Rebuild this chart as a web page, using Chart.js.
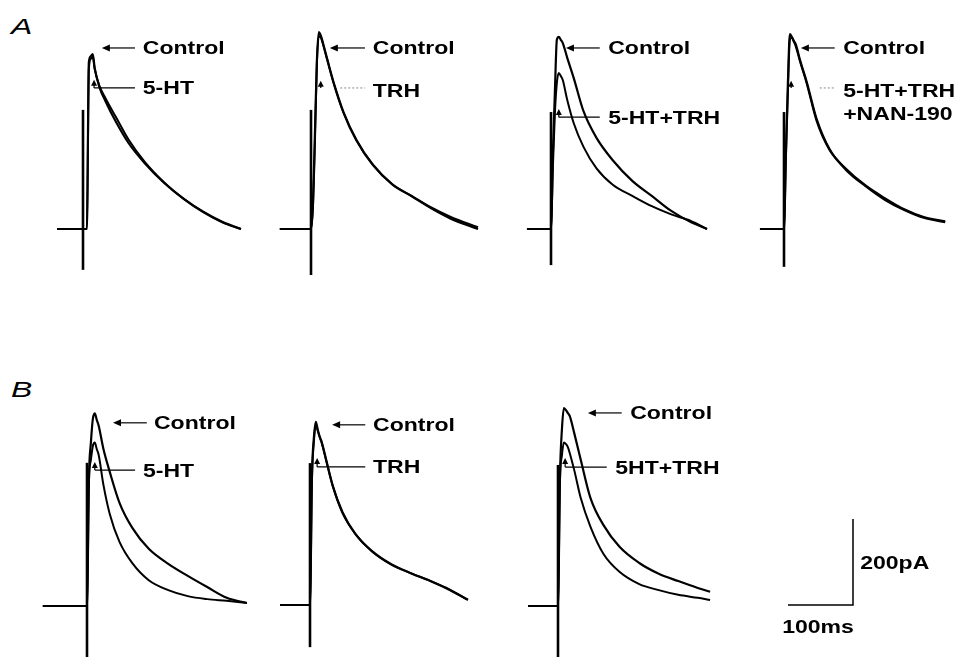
<!DOCTYPE html>
<html>
<head>
<meta charset="utf-8">
<title>EPSC traces</title>
<script src="https://cdn.jsdelivr.net/npm/chart.js@4.4.1/dist/chart.umd.min.js"></script>
<style>
  html, body { margin: 0; padding: 0; background: #fff; }
  body { width: 956px; height: 657px; position: relative; overflow: hidden; }
  .panel { position: absolute; }
  .row-label {
    position: absolute;
    font-family: "Liberation Sans", Arial, sans-serif;
    font-style: italic;
    font-size: 22px;
    line-height: 1;
    transform: scaleX(1.45);
    transform-origin: left top;
  }
</style>
</head>
<body>
<div class="row-label" style="left:11px; top:16px;">A</div>
<div class="row-label" style="left:11px; top:379px;">B</div>

<script>
// ---- data (ms after the stimulus, current in pA, drawn upward) ----
const timeMs = [0, 3, 6, 9, 12, 15, 18, 25, 35, 50, 70, 95, 125, 155, 185, 215];
const baselineStartMs = [-40, -48, -37, -37, -68, -46, -46];
const traceEndMs = [243, 257, 240, 248, 246, 243, 234];

// last value of each list is the current at traceEndMs
const a1Control = [0, 0, 0, 388, 402, 407, 374, 331, 296, 251, 200, 153, 107, 70, 40, 16, 0];
const a1Drug    = [0, 0, 0, 372, 396, 400, 372, 334, 303, 262, 208, 156, 108, 70, 39, 15, 0];
const a2Control = [0, 60, 220, 390, 458, 450, 435, 395, 340, 272, 207, 150, 104, 76, 48, 24, 0];
const a2Drug    = [0, 50, 200, 380, 448, 446, 432, 393, 338, 270, 205, 149, 104, 77, 50, 28, 4];
const a3Control = [0, 180, 320, 440, 447, 440, 433, 398, 351, 274, 212, 160, 112, 77, 42, 16, 0];
const a3Drug    = [0, 150, 270, 340, 363, 356, 347, 300, 246, 191, 141, 103, 77, 53, 34, 19, 0];
const a4Control = [0, 180, 340, 453, 447, 438, 430, 391, 342, 257, 186, 138, 100, 68, 44, 26, 16];
const a4Drug    = [0, 170, 320, 440, 445, 436, 425, 388, 338, 252, 184, 141, 102, 72, 46, 28, 18];
const b1Control = [0, 300, 380, 435, 448, 433, 419, 367, 312, 240, 181, 133, 98, 70, 44, 19, 7];
const b1Drug    = [0, 290, 340, 372, 380, 365, 351, 284, 214, 149, 99, 60, 37, 23, 16, 12, 7];
const b2Control = [0, 300, 390, 426, 407, 391, 379, 337, 277, 216, 165, 126, 95, 74, 56, 35, 12];
const b2Drug    = [0, 290, 380, 420, 405, 390, 377, 335, 277, 214, 165, 125, 94, 74, 56, 36, 12];
const b3Control = [0, 300, 410, 460, 456, 449, 442, 402, 340, 251, 188, 137, 100, 75, 58, 42, 33];
const b3Drug    = [0, 290, 350, 380, 377, 370, 356, 316, 251, 184, 121, 79, 51, 37, 26, 19, 14];

const controlTraces = [a1Control, a2Control, a3Control, a4Control, b1Control, b2Control, b3Control];
const drugTraces = [a1Drug, a2Drug, a3Drug, a4Drug, b1Drug, b2Drug, b3Drug];

// stimulus artifact extent (pA)
const artifactTopPa = [277, 277, 272, 272, 333, 330, 328];
const artifactBottomPa = [-95, -107, -84, -88, -125, -98, -125];

const drugNames = [['5-HT'], ['TRH'], ['5-HT+TRH'], ['5-HT+TRH', '+NAN-190'], ['5-HT'], ['TRH'], ['5HT+TRH']];

const scaleBarMs = 100;
const scaleBarPa = 200;

// ---- layout ----
const X_MIN = -100, X_MAX = 300;   // ms in every panel
const Y_MIN = -200, Y_MAX = 500;   // pA in every panel
const PX_PER_MS = 0.65, PX_PER_PA = 0.43;
// page pixel of (0 ms, 0 pA) for each panel
const panelOrigins = [[83, 229], [311, 229], [551, 229], [784, 229], [87, 606], [310, 605], [558, 606]];

// label anchors, in ms / pA of their panel
const controlLabels = [
  { tip: 29, tail: 80, y: 421, textX: 92 },
  { tip: 29, tail: 83, y: 421, textX: 95 },
  { tip: 23, tail: 75, y: 421, textX: 88 },
  { tip: 26, tail: 78, y: 421, textX: 91 },
  { tip: 40, tail: 92, y: 426, textX: 103 },
  { tip: 34, tail: 85, y: 419, textX: 97 },
  { tip: 46, tail: 98, y: 449, textX: 111 }
];
const drugLabels = [
  { tipX: 17, tipY: 347, lineY: 328, lineStart: 17, lineEnd: 80, textX: 92, textY: 328, dotted: false },
  { tipX: 15, tipY: 345, lineY: 328, lineStart: 45, lineEnd: 83, textX: 95, textY: 323, dotted: true },
  { tipX: 12, tipY: 279, lineY: 260, lineStart: 12, lineEnd: 75, textX: 88, textY: 260, dotted: false },
  { tipX: 11, tipY: 345, lineY: 328, lineStart: 55, lineEnd: 78, textX: 91, textY: 323, dotted: true },
  { tipX: 12, tipY: 335, lineY: 316, lineStart: 12, lineEnd: 74, textX: 86, textY: 316, dotted: false },
  { tipX: 11, tipY: 342, lineY: 321, lineStart: 11, lineEnd: 85, textX: 97, textY: 321, dotted: false },
  { tipX: 11, tipY: 344, lineY: 323, lineStart: 11, lineEnd: 75, textX: 88, textY: 323, dotted: false }
];

const LABEL_FONT = 'bold 18px "Liberation Sans", Arial, sans-serif';

function drawText(ctx, text, x, yCenter) {
  ctx.save();
  ctx.font = LABEL_FONT;
  ctx.textAlign = 'left';
  ctx.textBaseline = 'alphabetic';
  ctx.translate(x, yCenter + 6.5);
  ctx.scale(1.28, 1);
  ctx.fillText(text, 0, 0);
  ctx.restore();
}

function segment(ctx, x1, y1, x2, y2) {
  ctx.beginPath();
  ctx.moveTo(x1, y1);
  ctx.lineTo(x2, y2);
  ctx.stroke();
}

function arrowHead(ctx, x, y, dir) {
  // dir: 'left' or 'up'
  ctx.beginPath();
  if (dir === 'left') {
    ctx.moveTo(x, y);
    ctx.lineTo(x + 8, y - 3.5);
    ctx.lineTo(x + 8, y + 3.5);
  } else {
    ctx.moveTo(x, y);
    ctx.lineTo(x - 3, y + 6);
    ctx.lineTo(x + 3, y + 6);
  }
  ctx.closePath();
  ctx.fill();
}

function makeLabelPlugin(panel) {
  return {
    id: 'traceLabels',
    afterDatasetsDraw(chart) {
      const ctx = chart.ctx;
      const xs = chart.scales.x;
      const ys = chart.scales.y;
      const c = controlLabels[panel];
      const d = drugLabels[panel];

      ctx.save();
      ctx.strokeStyle = '#000';
      ctx.fillStyle = '#000';
      ctx.lineWidth = 1.2;

      const cy = ys.getPixelForValue(c.y);
      const tipX = xs.getPixelForValue(c.tip);
      segment(ctx, tipX + 6, cy, xs.getPixelForValue(c.tail), cy);
      arrowHead(ctx, tipX, cy, 'left');
      drawText(ctx, 'Control', xs.getPixelForValue(c.textX), cy);

      const dx = xs.getPixelForValue(d.tipX);
      const dTop = ys.getPixelForValue(d.tipY);
      const dLine = ys.getPixelForValue(d.lineY);
      arrowHead(ctx, dx, dTop, 'up');
      segment(ctx, dx, dTop + 5, dx, dLine);
      if (d.dotted) {
        ctx.strokeStyle = '#888';
        ctx.lineWidth = 1;
        ctx.setLineDash([2, 2]);
      }
      segment(ctx, xs.getPixelForValue(d.lineStart), dLine, xs.getPixelForValue(d.lineEnd), dLine);
      ctx.setLineDash([]);

      const lines = drugNames[panel];
      lines.forEach((txt, k) => {
        drawText(ctx, txt, xs.getPixelForValue(d.textX), ys.getPixelForValue(d.textY) + k * 23);
      });
      ctx.restore();
    }
  };
}

function tracePoints(panel, values) {
  const pts = [{ x: baselineStartMs[panel], y: 0 }];
  timeMs.forEach((t, k) => pts.push({ x: t, y: values[k] }));
  pts.push({ x: traceEndMs[panel], y: values[values.length - 1] });
  return pts;
}

function addCanvas(left, top, width, height) {
  const box = document.createElement('div');
  box.className = 'panel';
  box.style.left = left + 'px';
  box.style.top = top + 'px';
  box.style.width = width + 'px';
  box.style.height = height + 'px';
  const canvas = document.createElement('canvas');
  box.appendChild(canvas);
  document.body.appendChild(box);
  return canvas;
}

function hiddenScales(xMin, xMax, yMin, yMax) {
  return {
    x: { type: 'linear', min: xMin, max: xMax, display: false },
    y: { type: 'linear', min: yMin, max: yMax, display: false }
  };
}

function renderPanel(panel) {
  const [ox, oy] = panelOrigins[panel];
  const width = (X_MAX - X_MIN) * PX_PER_MS;
  const height = (Y_MAX - Y_MIN) * PX_PER_PA;
  const canvas = addCanvas(ox + X_MIN * PX_PER_MS, oy - Y_MAX * PX_PER_PA, width, height);

  new Chart(canvas, {
    type: 'line',
    data: {
      datasets: [
        {
          label: 'artifact',
          data: [{ x: 0, y: artifactBottomPa[panel] }, { x: 0, y: artifactTopPa[panel] }],
          borderColor: '#000',
          borderWidth: 2.6
        },
        {
          label: 'Control',
          data: tracePoints(panel, controlTraces[panel]),
          borderColor: '#000',
          borderWidth: 2.2,
          cubicInterpolationMode: 'monotone'
        },
        {
          label: drugNames[panel].join(' '),
          data: tracePoints(panel, drugTraces[panel]),
          borderColor: '#000',
          borderWidth: 2,
          cubicInterpolationMode: 'monotone'
        }
      ]
    },
    options: {
      responsive: true,
      maintainAspectRatio: false,
      animation: false,
      layout: { padding: 0 },
      elements: { point: { radius: 0 } },
      plugins: {
        legend: { display: false },
        tooltip: { enabled: false }
      },
      scales: hiddenScales(X_MIN, X_MAX, Y_MIN, Y_MAX)
    },
    plugins: [makeLabelPlugin(panel)]
  });
}

function renderScaleBar() {
  const xMin = -40, xMax = 220, yMin = -100, yMax = 300;
  // corner of the bar sits at page (853, 605)
  const left = 853 - (scaleBarMs - xMin) * PX_PER_MS;
  const top = 605 - yMax * PX_PER_PA;
  const canvas = addCanvas(left, top, (xMax - xMin) * PX_PER_MS, (yMax - yMin) * PX_PER_PA);

  new Chart(canvas, {
    type: 'line',
    data: {
      datasets: [{
        label: 'scale',
        data: [{ x: 0, y: 0 }, { x: scaleBarMs, y: 0 }, { x: scaleBarMs, y: scaleBarPa }],
        borderColor: '#000',
        borderWidth: 1.5
      }]
    },
    options: {
      responsive: true,
      maintainAspectRatio: false,
      animation: false,
      layout: { padding: 0 },
      elements: { point: { radius: 0 } },
      plugins: {
        legend: { display: false },
        tooltip: { enabled: false }
      },
      scales: hiddenScales(xMin, xMax, yMin, yMax)
    },
    plugins: [{
      id: 'scaleLabels',
      afterDatasetsDraw(chart) {
        const xs = chart.scales.x, ys = chart.scales.y;
        chart.ctx.fillStyle = '#000';
        drawText(chart.ctx, scaleBarPa + 'pA', xs.getPixelForValue(scaleBarMs + 11), ys.getPixelForValue(scaleBarPa * 0.49));
        drawText(chart.ctx, scaleBarMs + 'ms', xs.getPixelForValue(-9), ys.getPixelForValue(-51));
      }
    }]
  });
}

document.addEventListener('DOMContentLoaded', function() {
  for (let p = 0; p < panelOrigins.length; p++) {
    renderPanel(p);
  }
  renderScaleBar();
});
</script>
</body>
</html>
